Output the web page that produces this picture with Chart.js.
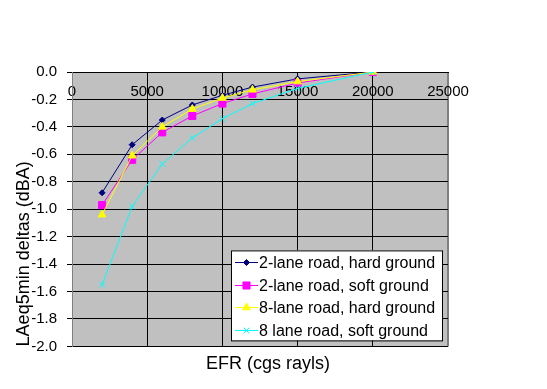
<!DOCTYPE html>
<html>
<head>
<meta charset="utf-8">
<script src="https://cdn.jsdelivr.net/npm/chart.js@4.4.1/dist/chart.umd.min.js"></script>
<style>
  html, body { margin: 0; padding: 0; background: #fff; }
  canvas { display: block; }
</style>
</head>
<body>
<canvas id="chart" width="547" height="389"></canvas>
<script>
// EFR (cgs rayls) 값
const efr = [2000, 4000, 6000, 8000, 10000, 12000, 15000, 20000];

// LAeq5min 차이 (dBA) - 그림에서 읽은 값
const lane2Hard = [-0.88, -0.53, -0.35, -0.24, -0.17, -0.11, -0.05, 0];
const lane2Soft = [-0.97, -0.64, -0.44, -0.32, -0.23, -0.16, -0.08, 0];
const lane8Hard = [-1.04, -0.61, -0.40, -0.27, -0.19, -0.13, -0.07, 0];
const lane8Soft = [-1.55, -0.98, -0.67, -0.48, -0.34, -0.23, -0.12, 0];

const seriesNames = [
  '2-lane road, hard ground',
  '2-lane road, soft ground',
  '8-lane road, hard ground',
  '8 lane road, soft ground',
];

// 축 눈금
const xMin = 0, xMax = 25000, xStep = 5000;
const yMin = -2.0, yMax = 0.0, yStep = 0.2;

Chart.defaults.font.family = "'Liberation Sans', Arial, sans-serif";
Chart.defaults.color = '#000';

const toPoints = (ys) => efr.map((x, i) => ({ x, y: ys[i] }));

const styles = [
  { color: '#000080', pointStyle: 'rectRot', radius: 3 },
  { color: '#ff00ff', pointStyle: 'rect', radius: 5 },
  { color: '#ffff00', pointStyle: 'triangle', radius: 4.5 },
  { color: '#00ffff', pointStyle: 'crossRot', radius: 4 },
];

const values = [lane2Hard, lane2Soft, lane8Hard, lane8Soft];

// 회색 플롯 배경 + x축 제목 위치 보정
const plotBg = {
  id: 'plotBg',
  afterLayout(chart) {
    const s = chart.scales.x2;
    s.left += 8;
    s.right += 8;
  },
  beforeDraw(chart) {
    const { ctx, chartArea: a } = chart;
    ctx.save();
    ctx.fillStyle = '#c0c0c0';
    ctx.fillRect(a.left, a.top, a.right - a.left, a.bottom - a.top);
    ctx.restore();
  },
};

// 엑셀식 범례 박스 (플롯 안쪽 오른쪽 아래)
const boxLegend = {
  id: 'boxLegend',
  afterDraw(chart) {
    const { ctx, chartArea: a } = chart;
    const left = a.right - 217, top = a.bottom - 96, w = 211, h = 90;
    ctx.save();
    ctx.fillStyle = '#fff';
    ctx.fillRect(left, top, w, h);
    ctx.strokeStyle = '#000';
    ctx.lineWidth = 1;
    ctx.strokeRect(left + 0.5, top + 0.5, w, h);
    ctx.font = "16px 'Liberation Sans', Arial, sans-serif";
    ctx.textBaseline = 'middle';
    ctx.textAlign = 'left';
    chart.data.datasets.forEach((ds, i) => {
      const y = Math.round(top + 12 + i * 22.5) + 0.5;
      ctx.strokeStyle = ds.borderColor;
      ctx.fillStyle = ds.pointBackgroundColor;
      ctx.lineWidth = 1;
      ctx.beginPath();
      ctx.moveTo(left + 4, y);
      ctx.lineTo(left + 27, y);
      ctx.stroke();
      Chart.helpers.drawPoint(ctx, {
        pointStyle: ds.pointStyle, radius: ds.pointRadius, borderWidth: 1, rotation: 0,
      }, left + 15.5, y);
      ctx.fillStyle = '#000';
      ctx.fillText(ds.label, left + 28, y + 1);
    });
    ctx.restore();
  },
};

new Chart(document.getElementById('chart'), {
  type: 'line',
  data: {
    datasets: values.map((ys, i) => ({
      label: seriesNames[i],
      data: toPoints(ys),
      borderColor: styles[i].color,
      backgroundColor: styles[i].color,
      pointBackgroundColor: styles[i].color,
      pointBorderColor: styles[i].color,
      pointStyle: styles[i].pointStyle,
      pointRadius: styles[i].radius,
      pointBorderWidth: 1,
      borderWidth: 1,
      tension: 0,
      fill: false,
      order: 4 - i,
    })),
  },
  options: {
    responsive: false,
    animation: false,
    layout: { padding: { top: 72, left: 0, right: 99, bottom: 14 } },
    plugins: {
      legend: { display: false },
      tooltip: { enabled: false },
    },
    scales: {
      x: {
        type: 'linear',
        position: 'top',
        min: xMin, max: xMax,
        afterFit: (s) => { s.height = 0; },
        ticks: {
          stepSize: xStep,
          mirror: true,
          padding: 11,
          font: { size: 15 },
          callback: (v) => String(v),
        },
        grid: {
          drawTicks: false,
          color: (c) => (c.tick && c.tick.value === xMax ? '#808080' : '#000'),
          lineWidth: (c) => (c.tick && c.tick.value === xMax ? 2 : 1),
        },
        border: { color: '#000', width: 1 },
      },
      x2: {
        type: 'linear',
        position: 'bottom',
        min: xMin, max: xMax,
        ticks: { display: false },
        grid: { display: false, drawTicks: false },
        border: { display: false },
        title: {
          display: true,
          text: 'EFR (cgs rayls)',
          font: { size: 18 },
          padding: { top: 7, bottom: 0 },
        },
      },
      y: {
        min: yMin, max: yMax,
        afterFit: (s) => { s.width = 72; },
        ticks: {
          stepSize: yStep,
          padding: 10,
          font: { size: 15 },
          callback: (v) => (Math.abs(v) < 1e-9 ? '0.0' : Number(v).toFixed(1)),
        },
        grid: { color: '#000', tickLength: 5, tickColor: '#000' },
        border: { color: '#808080', width: 1 },
        title: {
          display: true,
          text: 'LAeq5min deltas (dBA)',
          align: 'start',
          font: { size: 18 },
          padding: { top: 13, bottom: 0 },
        },
      },
    },
  },
  plugins: [plotBg, boxLegend],
});
</script>
</body>
</html>
